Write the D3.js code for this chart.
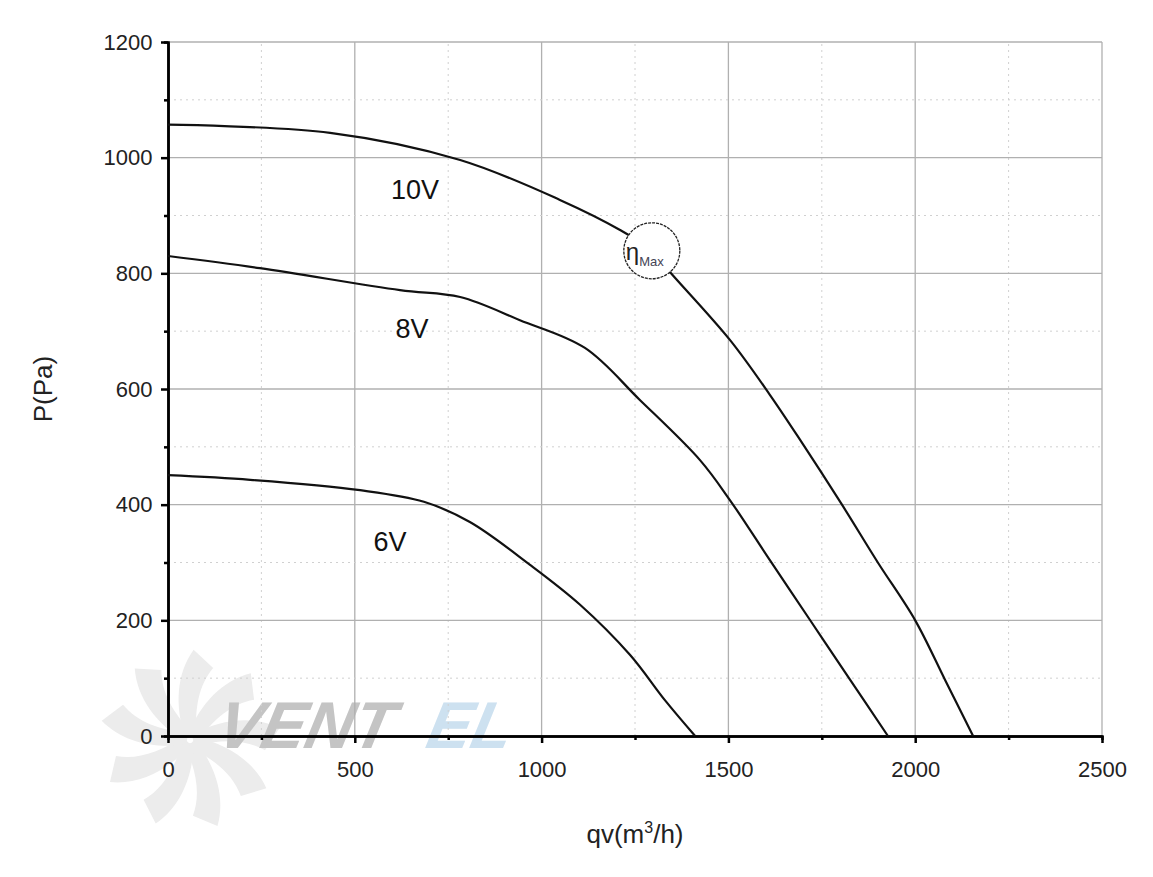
<!DOCTYPE html><html><head><meta charset="utf-8"><script src="https://cdn.jsdelivr.net/npm/d3@7"></script>
<style>body{margin:0;background:#fff}</style></head><body><svg id="c" width="1153" height="877"></svg>
<script>
const xTicks=[0,500,1000,1500,2000,2500];
const yTicks=[0,200,400,600,800,1000,1200];
const s10=[[0,1057],[434,1043],[782,996],[1049,927],[1210,875],[1295,839],[1344,802],[1504,685],[1611,590],[1692,512],[1804,400],[1900,300],[2000,200],[2080,97],[2155,0]];
const s8=[[0,830],[246,809],[621,771],[782,759],[942,719],[1116,671],[1263,581],[1424,477],[1504,408],[1611,304],[1718,201],[1826,97],[1927,0]];
const s6=[[0,451],[220,443],[514,425],[685,405],[808,370],[969,296],[1103,227],[1237,140],[1330,62],[1411,0]];
const labels=[["10V",661,928],["8V",653,688],["6V",594,320]];
const etaPoint=[1295,839];

const svg=d3.select("#c");
const x=d3.scaleLinear().domain([0,2500]).range([168,1102]);
const y=d3.scaleLinear().domain([0,1200]).range([736,42]);
const font="Arial, 'Liberation Sans', sans-serif";
// watermark
const wm=svg.append("g");
for(let i=0;i<9;i++){const a=i*40-20;
 wm.append("path").attr("d","M0,-6 C22,-30 50,-45 80,-42 L74,-16 C52,-20 30,-12 6,4 Z").attr("fill","#ececec")
 .attr("transform",`translate(190,740) rotate(${a})`);}
wm.append("text").attr("x",215).attr("y",748).attr("font-family",font).attr("font-weight","bold").attr("font-style","italic").attr("font-size",66).attr("fill","#c4c4c4").attr("transform","skewX(-12) translate(158,0)").text("VENT");
wm.append("text").attr("x",425).attr("y",748).attr("font-family",font).attr("font-weight","bold").attr("font-style","italic").attr("font-size",66).attr("fill","#cde1f0").attr("transform","skewX(-12) translate(158,0)").text("EL");
// grid
const g=svg.append("g");
d3.range(250,2501,250).forEach(v=>{const maj=v%500===0;g.append("line").attr("x1",x(v)).attr("x2",x(v)).attr("y1",y(0)).attr("y2",y(1200)).attr("stroke",maj?"#b0b0b0":"#d0d0d0").attr("stroke-width",maj?1.3:1).attr("stroke-dasharray",maj?null:"2,4");});
d3.range(100,1201,100).forEach(v=>{const maj=v%200===0;g.append("line").attr("y1",y(v)).attr("y2",y(v)).attr("x1",x(0)).attr("x2",x(2500)).attr("stroke",maj?"#b0b0b0":"#d0d0d0").attr("stroke-width",maj?1.3:1).attr("stroke-dasharray",maj?null:"2,4");});
// axes
const fmt=d3.format("d");
const xa=svg.append("g").attr("transform","translate(0,736)").call(d3.axisBottom(x).tickValues(xTicks).tickSize(7).tickSizeOuter(0).tickFormat(fmt));
const xm=svg.append("g").attr("transform","translate(0,736)").call(d3.axisBottom(x).tickValues(d3.range(250,2500,500)).tickSize(4).tickFormat(""));
const ya=svg.append("g").attr("transform","translate(168,0)").call(d3.axisLeft(y).tickValues(yTicks).tickSize(7).tickSizeOuter(0).tickFormat(fmt));
const ym=svg.append("g").attr("transform","translate(168,0)").call(d3.axisLeft(y).tickValues(d3.range(100,1200,200)).tickSize(4).tickFormat(""));
[xa,xm,ya,ym].forEach(a=>{a.selectAll("path,line").attr("stroke","#000").attr("stroke-width",2.5);a.selectAll("text").attr("font-family",font).attr("font-size",22).attr("fill","#222");});
xa.selectAll("text").attr("dy","1.4em");
ya.selectAll("text").attr("dx","-0.25em");
svg.append("text").attr("x",635).attr("y",843).attr("text-anchor","middle").attr("font-family",font).attr("font-size",26).attr("fill","#222")
 .html('qv(m<tspan dy="-10" font-size="16">3</tspan><tspan dy="10">/h)</tspan>');
svg.append("text").attr("transform","translate(52,389) rotate(-90)").attr("text-anchor","middle").attr("font-family",font).attr("font-size",26).attr("fill","#222").text("P(Pa)");
// lines
const line=d3.line().x(d=>x(d[0])).y(d=>y(d[1])).curve(d3.curveCatmullRom.alpha(0.5));
[s10,s8,s6].forEach(s=>svg.append("path").attr("d",line(s)).attr("fill","none").attr("stroke","#111").attr("stroke-width",2.2));
labels.forEach(l=>svg.append("text").attr("x",x(l[1])).attr("y",y(l[2])).attr("text-anchor","middle").attr("font-family",font).attr("font-size",27).attr("fill","#111").text(l[0]));
svg.append("circle").attr("cx",x(etaPoint[0])).attr("cy",y(etaPoint[1])).attr("r",28).attr("fill","#fff").attr("stroke","#222").attr("stroke-width",1.3).attr("stroke-dasharray","3,1");
svg.append("text").attr("x",x(etaPoint[0])-26).attr("y",y(etaPoint[1])+9).attr("font-family",font).attr("font-size",24).attr("fill","#222")
 .html('η<tspan font-size="13" dy="6" fill="#445">Max</tspan>');
</script></body></html>
